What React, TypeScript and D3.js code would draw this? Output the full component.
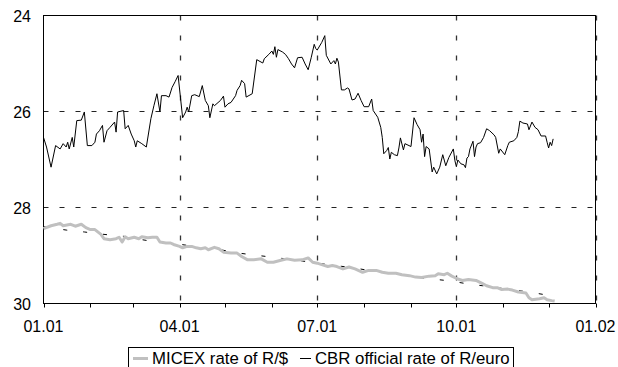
import React from "react";
import * as d3 from "d3";

// Days are counted from 2001-01-01
const euroDays = [0,2,5,8,11,13,15,16,17,19,20,22,25,27,29,32,34,35,37,39,40,42,44,47,48,49,53,54,56,58,60,61,62,65,68,71,73,75,77,78,81,83,85,87,89,92,94,95,96,98,100,103,105,107,109,110,112,113,117,119,120,122,124,127,128,130,131,133,134,138,141,145,146,149,151,152,153,154,155,158,160,162,164,166,168,171,173,175,177,179,180,181,184,186,187,190,192,193,194,195,197,199,201,202,204,206,208,210,212,215,217,218,221,223,224,225,227,228,229,230,232,234,235,236,238,239,243,245,247,249,250,251,252,253,255,257,258,260,262,264,266,268,271,272,273,274,276,278,279,280,281,282,284,285,286,287,289,291,293,295,298,299,301,302,305,307,308,311,313,314,315,317,320,321,323,325,327,329,332,333,334,335,336,337];
const euroRate = [26.54,26.74,27.16,26.71,26.78,26.67,26.74,26.64,26.78,26.54,26.74,26.19,26.18,26.01,26.71,26.71,26.64,26.47,26.40,26.29,26.64,26.40,26.33,26.22,26.43,26.01,25.98,26.36,26.29,26.47,26.61,26.74,26.61,26.67,26.74,26.15,25.88,25.63,26.01,25.67,25.67,25.70,25.50,25.38,25.25,26.13,26.01,25.91,26.01,25.67,25.65,25.69,25.46,25.77,25.88,26.13,25.84,25.88,25.77,25.68,25.91,25.84,25.81,25.67,25.56,25.46,25.35,25.42,25.70,25.63,24.92,24.99,24.90,24.81,24.74,24.81,24.65,24.87,24.71,24.76,24.81,24.90,25.01,25.09,24.88,24.87,25.01,25.13,24.88,24.60,24.69,24.72,24.56,24.42,24.83,25.01,24.94,25.01,24.89,24.97,25.55,25.55,25.51,25.53,25.76,25.74,25.62,25.77,25.90,25.90,25.74,25.98,26.12,26.33,26.54,26.88,26.81,26.75,26.99,26.85,26.90,26.92,26.76,26.55,26.80,26.67,26.73,26.13,26.27,26.38,26.64,26.47,26.94,26.73,26.78,27.26,27.16,27.30,27.16,26.90,27.13,26.96,26.78,27.02,27.15,27.01,27.09,27.11,27.17,26.97,26.94,26.78,26.62,26.94,26.74,26.67,26.65,26.54,26.36,26.40,26.49,26.54,26.87,26.78,26.90,26.71,26.64,26.61,26.54,26.42,26.20,26.24,26.26,26.38,26.22,26.33,26.38,26.51,26.51,26.64,26.76,26.64,26.71,26.57];

const micexDays = [0,5,9,11,13,18,21,25,28,31,34,38,40,44,48,50,52,54,56,60,63,65,69,72,75,77,81,84,86,90,92,95,98,101,104,107,109,113,116,119,124,128,131,135,139,144,148,152,157,161,166,171,175,178,181,184,188,191,194,198,202,206,211,215,220,224,228,233,237,242,246,250,255,259,261,265,267,270,274,277,281,286,290,293,297,300,303,307,310,314,319,321,323,328,331,333,336,338];
const micexRate = [28.44,28.38,28.35,28.33,28.38,28.35,28.39,28.35,28.42,28.46,28.46,28.56,28.65,28.67,28.65,28.62,28.72,28.61,28.65,28.62,28.65,28.61,28.63,28.62,28.62,28.72,28.74,28.74,28.77,28.81,28.84,28.81,28.81,28.84,28.86,28.84,28.88,28.83,28.86,28.93,28.95,28.95,29.02,29.09,29.09,29.07,29.14,29.14,29.10,29.07,29.10,29.09,29.05,29.14,29.16,29.19,29.23,29.21,29.23,29.28,29.24,29.28,29.35,29.31,29.31,29.35,29.37,29.37,29.40,29.42,29.45,29.46,29.43,29.42,29.38,29.40,29.37,29.43,29.49,29.52,29.50,29.52,29.58,29.63,29.67,29.67,29.71,29.70,29.72,29.76,29.78,29.88,29.92,29.90,29.88,29.92,29.94,29.95];

const cbrUsdDays = [0,15,27,40,53,65,79,91,104,117,129,142,155,168,181,193,206,218,232,244,257,269,282,296,308,321,334];
const cbrUsdRate = [28.40,28.47,28.51,28.56,28.60,28.67,28.74,28.77,28.83,28.88,28.95,29.00,29.05,29.10,29.16,29.21,29.26,29.33,29.37,29.44,29.49,29.53,29.60,29.65,29.71,29.76,29.83];

const yTicks = [24, 26, 28, 30];
const xMajorLabels = ["01.01", "04.01", "07.01", "10.01", "01.02"];
const xMajorDates = [new Date(2001, 0, 1), new Date(2001, 3, 1), new Date(2001, 6, 1), new Date(2001, 9, 1), new Date(2002, 0, 1)];
const legendLabels = ["MICEX rate of R/$", "CBR official rate of R/euro"];

const W = 618, H = 367;
const L = 43.5, R = 595.5, T = 15.5, B = 303.5;
const FONT = "'Liberation Sans', Arial, Helvetica, sans-serif";

const day = (d: number) => new Date(2001, 0, 1 + d);

export default function App() {
  const x = d3.scaleTime().domain([new Date(2001, 0, 1), new Date(2002, 0, 1)]).range([L, R]);
  const y = d3.scaleLinear().domain([24, 30]).range([T, B]);

  const mk = (days: number[], vals: number[]) =>
    d3.line<number>().x((_, i) => x(day(days[i]))).y((v) => y(v))(vals) || "";

  const months = d3.timeMonth.range(new Date(2001, 0, 1), new Date(2002, 0, 2));

  return (
    <svg width={W} height={H} style={{ position: "absolute", left: 0, top: 0, background: "#fff" }}>
      <rect x={0} y={0} width={W} height={H} fill="#fff" />
      {/* gridlines */}
      {yTicks.slice(0, 3).map((t) => (
        <line key={"h" + t} x1={L} x2={R} y1={y(t)} y2={y(t)} stroke="#222" strokeWidth={1} strokeDasharray="5,11" />
      ))}
      {xMajorDates.slice(1).map((d, i) => (
        <line key={"v" + i} x1={Math.round(x(d)) + 0.5} x2={Math.round(x(d)) + 0.5} y1={T} y2={B} stroke="#333" strokeWidth={1.3} strokeDasharray="5,15" />
      ))}
      {/* frame */}
      <rect x={L} y={T} width={R - L} height={B - T} fill="none" stroke="#000" strokeWidth={1} />
      {/* x ticks */}
      {months.map((d, i) => (
        <line key={"t" + i} x1={Math.round(x(d)) + 0.5} x2={Math.round(x(d)) + 0.5} y1={B} y2={B + 4} stroke="#000" strokeWidth={1} />
      ))}
      {/* series */}
      <path d={mk(cbrUsdDays, cbrUsdRate)} fill="none" stroke="#000" strokeWidth={1} strokeDasharray="4,16" />
      <path d={mk(micexDays, micexRate)} fill="none" stroke="#c0c0c0" strokeWidth={3} strokeLinejoin="round" />
      <path d={mk(euroDays, euroRate)} fill="none" stroke="#000" strokeWidth={1} strokeLinejoin="round" />
      {/* y labels */}
      {yTicks.map((t) => (
        <text key={"yl" + t} x={31} y={y(t) + 6} textAnchor="end" fontFamily={FONT} fontSize={16} fill="#000">{t}</text>
      ))}
      {/* x labels */}
      {xMajorDates.map((d, i) => (
        <text key={"xl" + i} x={x(d)} y={332} textAnchor="middle" fontFamily={FONT} fontSize={16} fill="#000">{xMajorLabels[i]}</text>
      ))}
      {/* legend */}
      <rect x={128.5} y={347.5} width={385} height={25} fill="#fff" stroke="#000" strokeWidth={1} />
      <line x1={133} x2={148} y1={358.5} y2={358.5} stroke="#c0c0c0" strokeWidth={3} />
      <text x={152} y={363.5} fontFamily={FONT} fontSize={16.8} fill="#000">{legendLabels[0]}</text>
      <line x1={300} x2={311} y1={358.5} y2={358.5} stroke="#000" strokeWidth={1} />
      <text x={315} y={363.5} fontFamily={FONT} fontSize={16.8} fill="#000">{legendLabels[1]}</text>
    </svg>
  );
}
